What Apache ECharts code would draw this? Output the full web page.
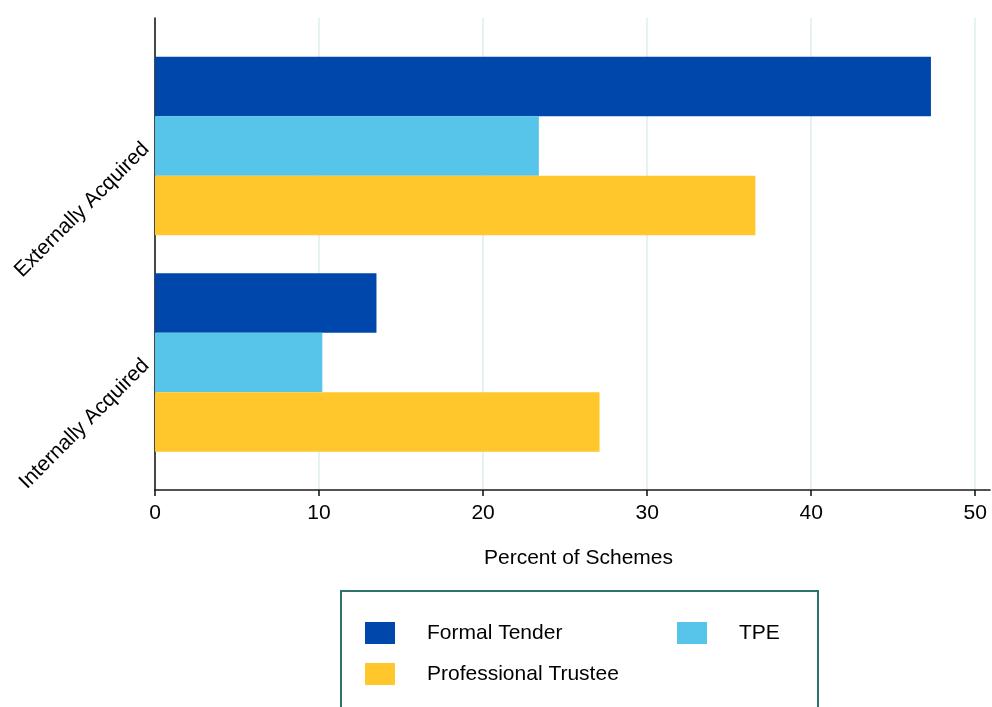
<!DOCTYPE html>
<html>
<head>
<meta charset="utf-8">
<script src="https://cdn.jsdelivr.net/npm/echarts@6/dist/echarts.min.js"></script>
<style>
html,body{margin:0;padding:0;background:#fff;}
#chart{width:992px;height:707px;}
</style>
</head>
<body>
<div id="chart"></div>
<script>
const categories = ['Externally Acquired', 'Internally Acquired'];
const formalTender = [47.3, 13.5];
const tpe = [23.4, 10.2];
const professionalTrustee = [36.6, 27.1];
const seriesNames = ['Formal Tender', 'TPE', 'Professional Trustee'];
const xTicks = [0, 10, 20, 30, 40, 50];
const colors = ['#0047AB', '#56C5E9', '#FFC72C'];

const FONT = '"Liberation Sans", Arial, sans-serif';
const FS = 21;
const X_MAX = 50.9;
const axisColor = '#1a1a1a';

const chart = echarts.init(document.getElementById('chart'), null, {renderer: 'canvas'});
const option = {
  backgroundColor: '#ffffff',
  animation: false,
  textStyle: {fontFamily: FONT},
  grid: [
    {left: 155, right: 2, top: 37.75, bottom: 707 - 470.75, containLabel: false},
    {left: 155, right: 2, top: 18, bottom: 707 - 490, containLabel: false}
  ],
  xAxis: [
    {
      gridIndex: 0, type: 'value', min: 0, max: X_MAX, interval: 10,
      show: false
    },
    {
      gridIndex: 1, type: 'value', min: 0, max: X_MAX, interval: 10,
      axisLine: {show: true, lineStyle: {color: axisColor, width: 1.6}},
      axisTick: {show: true, length: 6, customValues: xTicks, lineStyle: {color: axisColor, width: 1.6}},
      axisLabel: {
        color: '#000', fontSize: FS, fontFamily: FONT, margin: 13,
        customValues: xTicks
      },
      splitLine: {show: true, showMaxLine: true, showMinLine: false, lineStyle: {color: '#E6F1F1', width: 2}},
      name: 'Percent of Schemes',
      nameLocation: 'middle',
      nameGap: 58,
      nameTextStyle: {color: '#000', fontSize: FS, fontFamily: FONT, padding: [0, 0, 0, 12]}
    }
  ],
  yAxis: [
    {
      gridIndex: 0, type: 'category', data: categories, inverse: true,
      axisLine: {show: false}, axisTick: {show: false},
      axisLabel: {rotate: 45, color: '#000', fontSize: FS, fontFamily: FONT, margin: 9},
      splitLine: {show: false}
    },
    {
      gridIndex: 1, type: 'value', min: 0, max: 1,
      axisLine: {show: true, lineStyle: {color: axisColor, width: 1.6}},
      axisTick: {show: false}, axisLabel: {show: false}, splitLine: {show: false}
    }
  ],
  legend: {
    left: 341, top: 591,
    width: 440,
    orient: 'horizontal',
    padding: [31, 38, 40, 24],
    borderColor: '#2F716B', borderWidth: 2,
    itemWidth: 30, itemHeight: 22, itemGap: 19,
    icon: 'rect',
    textStyle: {color: '#000', fontSize: FS, fontFamily: FONT, width: 231, lineHeight: 22, padding: [0, 0, 0, 27]},
    data: [
      {name: seriesNames[0]},
      {name: seriesNames[1], textStyle: {width: 41}},
      {name: seriesNames[2]}
    ]
  },
  series: [
    {name: seriesNames[0], type: 'bar', xAxisIndex: 0, yAxisIndex: 0, data: formalTender, barWidth: 59.5, barGap: '0%', itemStyle: {color: colors[0]}},
    {name: seriesNames[1], type: 'bar', xAxisIndex: 0, yAxisIndex: 0, data: tpe, barWidth: 59.5, barGap: '0%', itemStyle: {color: colors[1]}},
    {name: seriesNames[2], type: 'bar', xAxisIndex: 0, yAxisIndex: 0, data: professionalTrustee, barWidth: 59.5, barGap: '0%', itemStyle: {color: colors[2]}}
  ]
};
chart.setOption(option);
</script>
</body>
</html>
